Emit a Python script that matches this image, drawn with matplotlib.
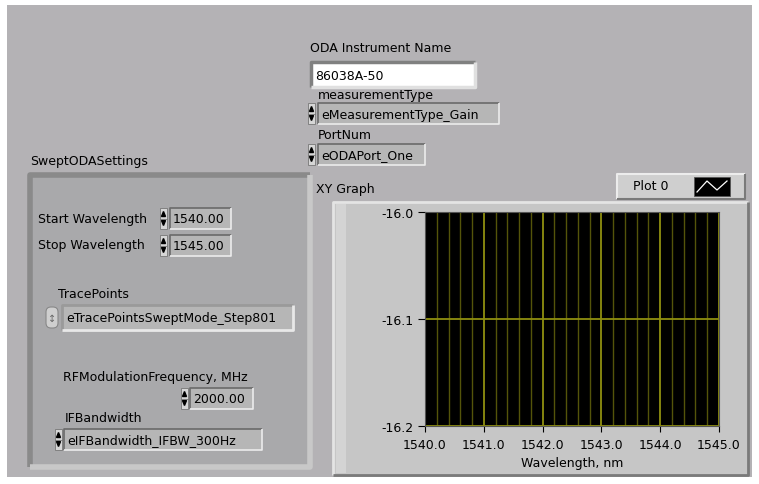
import matplotlib
matplotlib.use("Agg")
import matplotlib.pyplot as plt
from matplotlib.patches import Rectangle, Polygon, FancyBboxPatch
from matplotlib.ticker import MultipleLocator, FormatStrFormatter

plt.rcParams['font.family'] = ['DejaVu Sans']

# 控件上的值
instrument_name = "86038A-50"
measurement_type = "eMeasurementType_Gain"
port_num = "eODAPort_One"
start_wavelength = 1540.00
stop_wavelength = 1545.00
trace_points = "eTracePointsSweptMode_Step801"
rf_mod_freq = 2000.00
if_bandwidth = "eIFBandwidth_IFBW_300Hz"

# 图的刻度
x_ticks = [1540.0, 1541.0, 1542.0, 1543.0, 1544.0, 1545.0]
y_ticks = [-16.2, -16.1, -16.0]
plot_names = ["Plot 0"]

BG = '#b4b2b5'
FS = 9

fig = plt.figure(figsize=(7.59, 4.85), dpi=100)
fig.patch.set_facecolor('white')

# 背景坐标系 (像素坐标)
bg = fig.add_axes([0, 0, 1, 1])
bg.set_xlim(0, 759)
bg.set_ylim(485, 0)
bg.axis('off')


def box(x0, y0, x1, y1, fill, sunk=True, dark='#6a6a6a', light='#ececec', z=1, lw=1.2):
    bg.add_patch(Rectangle((x0, y0), x1 - x0, y1 - y0, facecolor=fill, edgecolor='none', zorder=z))
    tl, br = (dark, light) if sunk else (light, dark)
    bg.plot([x0, x0, x1], [y1, y0, y0], color=tl, lw=lw, zorder=z + 0.1, solid_capstyle='butt')
    bg.plot([x0, x1, x1], [y1, y1, y0], color=br, lw=lw, zorder=z + 0.1, solid_capstyle='butt')


def updown(x0, y0, y1, z=3):
    w = 7
    ym = (y0 + y1) / 2
    bg.add_patch(Rectangle((x0, y0), w, y1 - y0, facecolor='#d6d6d6', edgecolor='#777777', lw=0.6, zorder=z))
    bg.add_patch(Polygon([[x0 + 1.5, ym - 2], [x0 + w - 1.5, ym - 2], [x0 + w / 2, ym - 7]],
                         closed=True, color='black', zorder=z + 0.1))
    bg.add_patch(Polygon([[x0 + 1.5, ym + 2], [x0 + w - 1.5, ym + 2], [x0 + w / 2, ym + 7]],
                         closed=True, color='black', zorder=z + 0.1))
    bg.plot([x0, x0 + w], [ym, ym], color='#777777', lw=0.6, zorder=z + 0.2)


def label(x, y, s, **kw):
    bg.text(x, y, s, fontsize=FS, va='center', ha='left', color='black', zorder=5, **kw)


# 面板
bg.add_patch(Rectangle((7, 6), 745, 472, facecolor=BG, edgecolor='none', zorder=0))

# ODA Instrument Name
label(310, 49, "ODA Instrument Name")
box(311, 63, 475, 88, 'white', dark='#808080', light='#e0e0e0', lw=2.5)
label(315, 76, instrument_name)

label(318, 95, "measurementType")
box(318, 104, 499, 125, '#b6b6b6')
updown(308, 104, 125)
label(321, 115, measurement_type)

label(318, 136, "PortNum")
box(318, 145, 425, 166, '#b6b6b6')
updown(308, 145, 166)
label(321, 156, port_num)

# SweptODASettings 簇
label(30, 162, "SweptODASettings")
box(30, 176, 310, 468, '#a9a9ab', dark='#8a8a8a', light='#c8c8c8', lw=4)

label(38, 220, "Start Wavelength")
box(170, 209, 231, 230, '#b6b6b6')
updown(160, 209, 230)
label(173, 220, f"{start_wavelength:.2f}")

label(38, 246, "Stop Wavelength")
box(170, 236, 231, 257, '#b6b6b6')
updown(160, 236, 257)
label(173, 247, f"{stop_wavelength:.2f}")

label(58, 295, "TracePoints")
box(62, 306, 293, 331, '#b6b6b6', dark='#9a9a9a', light='#e8e8e8', lw=2)
bg.add_patch(FancyBboxPatch((46, 308), 12, 21, boxstyle='round,pad=0,rounding_size=5',
                            facecolor='#cfcfcf', edgecolor='#888888', lw=0.8, zorder=3))
bg.text(52, 318.5, "\u2195", fontsize=7, ha='center', va='center', color='#666666', zorder=4)
label(66, 319, trace_points)

label(63, 378, "RFModulationFrequency, MHz")
box(190, 389, 253, 410, '#b6b6b6')
updown(181, 389, 410)
label(193, 400, f"{rf_mod_freq:.2f}")

label(65, 419, "IFBandwidth")
box(64, 430, 262, 451, '#b6b6b6')
updown(55, 430, 451)
label(67, 441, if_bandwidth)

# 图的外框
label(316, 190, "XY Graph")
box(333, 203, 748, 476, '#c6c6c6', sunk=False, dark='#7a7a7a', light='#e4e4e4', lw=2)
bg.add_patch(Rectangle((336, 205), 10, 269, facecolor='#d4d4d4', edgecolor='none', zorder=1.05))

# 图例
box(617, 175, 745, 200, '#cfcfcf', sunk=False, dark='#7a7a7a', light='#ececec', lw=1.5)
label(633, 187, plot_names[0])
bg.add_patch(Rectangle((694, 178), 36, 19, facecolor='black', edgecolor='#555555', lw=0.6, zorder=4))
bg.plot([697, 707, 717, 727], [193, 182, 191, 182], color='white', lw=0.9, zorder=5)

# 绘图区
ax = fig.add_axes([425 / 759, (485 - 427) / 485, (719 - 425) / 759, (427 - 213) / 485])
ax.set_facecolor('black')
ax.set_xlim(x_ticks[0], x_ticks[-1])
ax.set_ylim(y_ticks[0], y_ticks[-1])
ax.set_xticks(x_ticks)
ax.set_yticks(y_ticks)
ax.xaxis.set_minor_locator(MultipleLocator(0.2))
ax.xaxis.set_major_formatter(FormatStrFormatter('%.1f'))
ax.yaxis.set_major_formatter(FormatStrFormatter('%.1f'))
ax.grid(True, which='major', axis='both', color='#8f8f10', lw=1.3)
ax.grid(True, which='minor', axis='x', color='#54540a', lw=1.0)
ax.tick_params(axis='x', which='major', direction='out', length=4, width=0.8, labelsize=FS, pad=5, color='black')
ax.tick_params(axis='y', which='major', direction='out', length=5, width=0.8, labelsize=FS, pad=3, color='black')
ax.tick_params(which='minor', length=0)
for s in ax.spines.values():
    s.set_color('#555555')
    s.set_linewidth(0.8)
ax.set_xlabel("Wavelength, nm", fontsize=FS, labelpad=3)

plt.savefig("out.png", dpi=100, facecolor=fig.get_facecolor())
